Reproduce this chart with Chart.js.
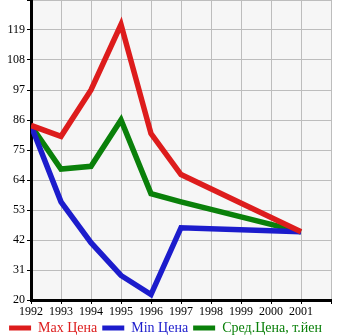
<!DOCTYPE html>
<html lang="ru">
  <head>
    <meta charset="UTF-8" />
    <title>Цены по годам</title>
    <script src="https://cdn.jsdelivr.net/npm/chart.js"></script>
    <style>
      html,
      body {
        margin: 0;
        padding: 0;
        background: #fff;
      }
      .wrap {
        width: 345px;
        height: 335px;
      }
    </style>
  </head>
  <body>
    <div class="wrap"><canvas id="lineChart"></canvas></div>

    <script>
      // Данные
      const years = [1992, 1993, 1994, 1995, 1996, 1997, 1998, 1999, 2000, 2001];
      const maxPrice = [84, 80, 97, 121, 81, 66, null, null, null, 45];
      const minPrice = [84, 56, 41, 29, 22, 46.5, null, null, null, 45];
      const avgPrice = [84, 68, 69, 86, 59, 56, null, null, null, 45];
      const yTicks = [20, 31, 42, 53, 64, 75, 86, 97, 108, 119];

      const toPoints = (vals) => years.map((y, i) => ({ x: y, y: vals[i] }));

      // фон области графика
      const plotBg = {
        id: "plotBg",
        beforeDraw(chart) {
          const { ctx, chartArea: a } = chart;
          ctx.save();
          ctx.fillStyle = "#f6f6f6";
          ctx.fillRect(a.left, a.top, a.right - a.left, a.bottom - a.top);
          ctx.restore();
        },
      };

      const serif = "'Liberation Serif', 'Times New Roman', serif";

      new Chart(document.getElementById("lineChart"), {
        type: "line",
        data: {
          datasets: [
            {
              label: "Max Цена",
              data: toPoints(maxPrice),
              borderColor: "#dd1c1c",
              backgroundColor: "#dd1c1c",
            },
            {
              label: "Min Цена",
              data: toPoints(minPrice),
              borderColor: "#1c1ccc",
              backgroundColor: "#1c1ccc",
            },
            {
              label: "Сред.Цена, т.йен",
              data: toPoints(avgPrice),
              borderColor: "#0a800a",
              backgroundColor: "#0a800a",
            },
          ],
        },
        options: {
          responsive: true,
          maintainAspectRatio: false,
          animation: false,
          spanGaps: true,
          layout: { padding: { top: 0, right: 14, left: 0, bottom: -10 } },
          elements: {
            line: { borderWidth: 5.5, tension: 0, borderJoinStyle: "miter" },
            point: { radius: 0 },
          },
          plugins: {
            tooltip: { enabled: false },
            legend: {
              position: "bottom",
              labels: {
                font: { family: serif, size: 14 },
                boxWidth: 22,
                boxHeight: 5,
                padding: 5,
                generateLabels(chart) {
                  return chart.data.datasets.map((ds, i) => ({
                    text: ds.label,
                    fillStyle: ds.borderColor,
                    strokeStyle: ds.borderColor,
                    lineWidth: 0,
                    fontColor: ds.borderColor,
                    datasetIndex: i,
                    hidden: false,
                  }));
                },
              },
            },
          },
          scales: {
            x: {
              type: "linear",
              min: 1992,
              max: 2002,
              afterBuildTicks(axis) {
                axis.ticks = [];
                for (let y = 1992; y <= 2002; y++) axis.ticks.push({ value: y });
              },
              afterFit(axis) {
                axis.height = 16;
              },
              ticks: {
                color: "#000",
                font: { family: serif, size: 12 },
                padding: 1,
                maxRotation: 0,
                callback: (v) => (v === 2002 ? "" : String(v)),
              },
              grid: { color: "#bdbdbd", lineWidth: 1, tickLength: 4, tickColor: "#000" },
              border: { color: "#000", width: 3 },
            },
            y: {
              min: 20,
              max: 130,
              afterBuildTicks(axis) {
                axis.ticks = yTicks.concat([130]).map((v) => ({ value: v }));
              },
              afterFit(axis) {
                axis.width = 31;
                axis.paddingTop = 0;
              },
              ticks: {
                color: "#000",
                font: { family: serif, size: 12 },
                padding: 2,
                callback: (v) => (v === 130 ? "" : String(v)),
              },
              grid: { color: "#bdbdbd", lineWidth: 1, tickLength: 4, tickColor: "#000" },
              border: { color: "#000", width: 3 },
            },
          },
        },
        plugins: [plotBg],
      });
    </script>
  </body>
</html>
